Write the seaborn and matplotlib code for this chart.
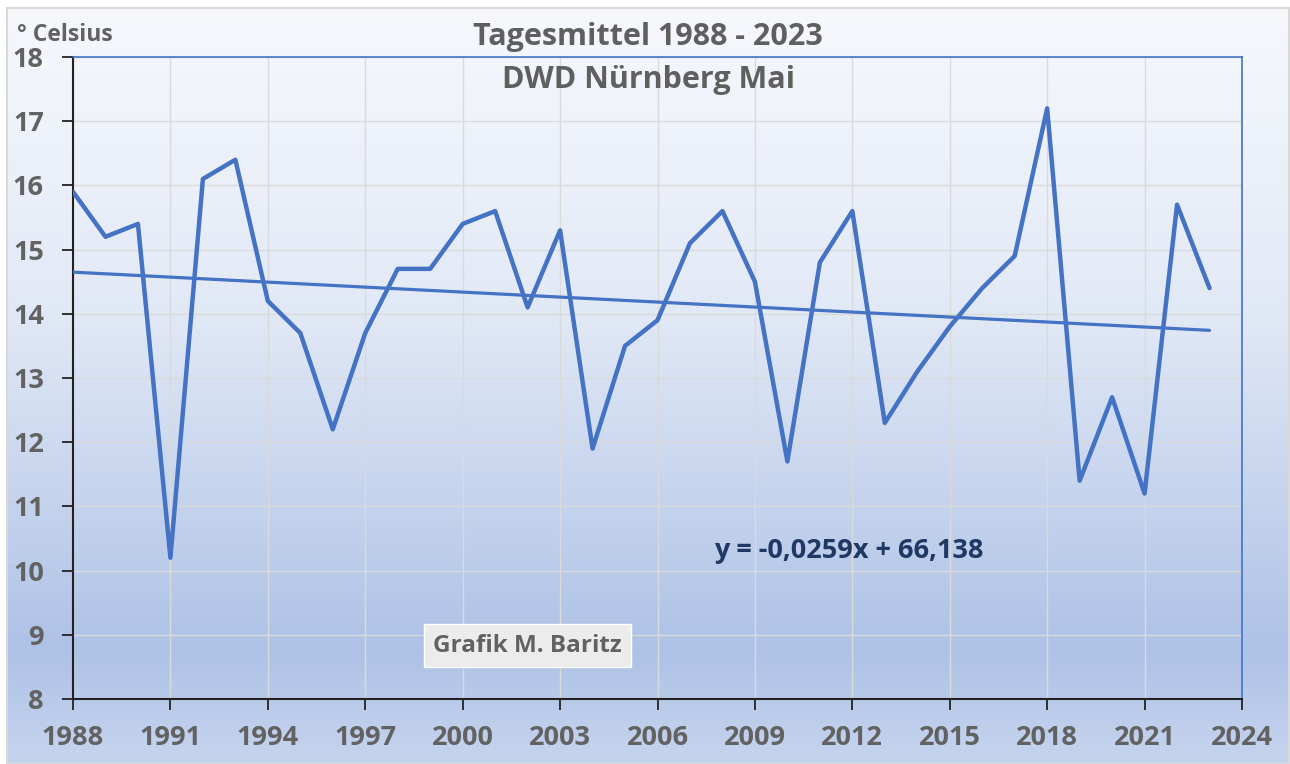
import numpy as np
import pandas as pd
import matplotlib
matplotlib.use("Agg")
import matplotlib.pyplot as plt
from matplotlib.colors import LinearSegmentedColormap
from matplotlib.patches import Rectangle
import seaborn as sns

# data
years = list(range(1988, 2024))
temps = [15.9, 15.2, 15.4, 10.2, 16.1, 16.4, 14.2, 13.7, 12.2, 13.7,
         14.7, 14.7, 15.4, 15.6, 14.1, 15.3, 11.9, 13.5, 13.9, 15.1,
         15.6, 14.5, 11.7, 14.8, 15.6, 12.3, 13.1, 13.8, 14.4, 14.9,
         17.2, 11.4, 12.7, 11.2, 15.7, 14.4]
slope = -0.0259
intercept = 66.138
x_ticks = list(range(1988, 2025, 3))
y_ticks = list(range(8, 19))

df = pd.DataFrame({"Jahr": years, "Temp": temps})
df["Trend"] = slope * df["Jahr"] + intercept

sns.set_theme(style="white")
plt.rcParams["font.family"] = ["Open Sans", "DejaVu Sans"]

W, H = 1290, 764
fig = plt.figure(figsize=(W / 100, H / 100), dpi=100)
fig.patch.set_facecolor("white")

# background gradient of the chart area
bg = fig.add_axes([0, 0, 1, 1], zorder=0)
bg.set_xlim(0, W)
bg.set_ylim(H, 0)
bg.axis("off")
cmap = LinearSegmentedColormap.from_list(
    "bg", [(0, "#f6f8fc"), (0.4, "#e2e9f6"), (0.85, "#aec2e6"), (1.0, "#c6d4ee")])
grad = np.linspace(0, 1, 256).reshape(-1, 1)
bg.imshow(grad, cmap=cmap, aspect="auto", extent=[7, W - 1, H, 8])
bg.add_patch(Rectangle((7, 8), W - 8, H - 8, fill=False, edgecolor="#d9d9d9", lw=1.5))

ax = fig.add_axes([73 / W, 1 - 699 / H, (1242 - 73) / W, (699 - 57) / H], zorder=1)
ax.patch.set_alpha(0)

sns.lineplot(data=df, x="Jahr", y="Temp", ax=ax, color="#4472c4", lw=3.2, zorder=3)
sns.lineplot(data=df, x="Jahr", y="Trend", ax=ax, color="#4472c4", lw=2.3, zorder=3)

ax.set_xlim(1988, 2024)
ax.set_ylim(8, 18)
ax.set_xticks(x_ticks)
ax.set_yticks(y_ticks)
ax.grid(True, color="#dadada", lw=1.0)
ax.set_axisbelow(True)
ax.set_xlabel("")
ax.set_ylabel("")

for side in ["top", "right"]:
    ax.spines[side].set_color("#4472c4")
    ax.spines[side].set_linewidth(1.2)
for side in ["left", "bottom"]:
    ax.spines[side].set_color("#222222")
    ax.spines[side].set_linewidth(1.5)

ax.tick_params(axis="both", direction="out", length=8, width=1.3, color="#222222",
               labelsize=19.5, labelcolor="#626262", bottom=True, left=True)
ax.tick_params(axis="x", pad=11)
ax.tick_params(axis="y", pad=13)
for lab in ax.get_xticklabels() + ax.get_yticklabels():
    lab.set_fontweight("bold")

fig.text(648 / W, 1 - 37 / H, "Tagesmittel 1988 - 2023", ha="center", va="center",
         fontsize=22, fontweight="bold", color="#5f5f5f")
fig.text(648 / W, 1 - 80 / H, "DWD Nürnberg Mai", ha="center", va="center",
         fontsize=22, fontweight="bold", color="#5f5f5f")
fig.text(17 / W, 1 - 35 / H, "° Celsius", ha="left", va="center",
         fontsize=16.5, fontweight="bold", color="#626262")

ax.text(2011.9, 10.3, "y = -0,0259x + 66,138", ha="center", va="center",
        fontsize=19.5, fontweight="bold", color="#1f3864")
ax.text(2002.0, 8.83, "Grafik M. Baritz", ha="center", va="center",
        fontsize=17.5, fontweight="bold", color="#626262",
        bbox=dict(boxstyle="square,pad=0.38", facecolor="#ececec", edgecolor="white", lw=1))

fig.savefig("out.png", dpi=100)
